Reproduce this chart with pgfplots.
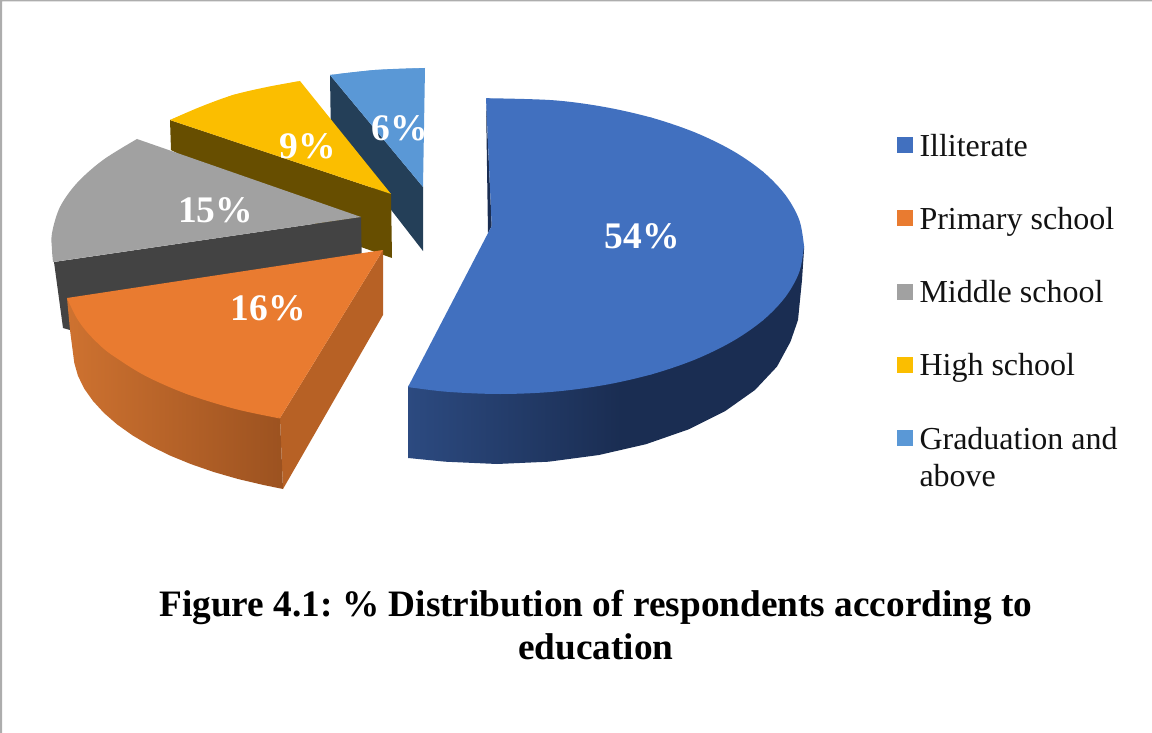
\documentclass[border=0pt]{standalone}
\usepackage{pgfplots}
\pgfplotsset{compat=1.18}
\usepackage{fontspec}
\setmainfont{Liberation Serif}
\frenchspacing
\definecolor{bT}{HTML}{4170BF}
\definecolor{bW1}{HTML}{2C4A80}
\definecolor{bW2}{HTML}{1A2D52}
\definecolor{oT}{HTML}{E97B30}
\definecolor{oS}{HTML}{B76125}
\definecolor{oW1}{HTML}{CE7230}
\definecolor{oW2}{HTML}{9C5220}
\definecolor{gT}{HTML}{A1A1A1}
\definecolor{gS}{HTML}{434343}
\definecolor{yT}{HTML}{FBBE00}
\definecolor{yS}{HTML}{674E00}
\definecolor{lT}{HTML}{5A98D6}
\definecolor{lS}{HTML}{243F58}
\definecolor{frameC}{HTML}{ADADAD}
\pgfdeclarehorizontalshading{bluewall}{100bp}{color(0bp)=(bW1); color(25bp)=(bW1); color(52bp)=(bW2); color(100bp)=(bW2)}
\pgfplotsset{poly/.style={forget plot, no markers, draw=none, fill=#1},
  parc/.style={forget plot, no markers, draw=none, fill=#1, smooth, tension=0.55}}
\tikzset{lab/.style={font=\fontsize{37.5}{37.5}\selectfont\bfseries, text=white, inner sep=0pt}}
\begin{document}
\begin{tikzpicture}
\begin{axis}[
  width=1152pt, height=733pt, scale only axis,
  xmin=0, xmax=1152, ymin=0, ymax=733, y dir=reverse,
  hide axis, clip=false,
  legend style={at={(897/1152,1-132/733)}, anchor=north west, draw=none, fill=none,
    font=\fontsize{32}{37}\selectfont, row sep=45.5pt, text=black!93,
    cells={anchor=base west}, inner sep=0pt, outer sep=0pt},
  legend image code/.code={\path[draw=none,fill=none] (0pt,3pt) -- (20.5pt,3pt); \fill[#1,draw=none] (0pt,3pt) rectangle (16pt,19pt);},
]
% frame
\addplot[poly=frameC] coordinates {(0,0)(1152,0)(1152,1.3)(2,1.3)(2,733)(0,733)};

% Graduation and above (6%)
\addplot[poly=lS] coordinates {(330,75)(423,187)(423,251)(392,211)(331,140)};
\addplot[poly=lT] coordinates {(330,75)(375,70)(425,68)(423,187)};
\addplot[parc=lT] coordinates {(330,75)(352,72.3)(375,70)(400,68.7)(425,68)};

% High school (9%)
\addplot[poly=yS] coordinates {(170,120)(391,194)(392,258)(361,247)(171,150)};
\addplot[poly=yT] coordinates {(170,120)(233,95)(300,81)(391,194)};
\addplot[parc=yT] coordinates {(170,120)(200,107)(233,95)(267,87)(300,81)};

% Middle school (15%)
\addplot[poly=gS] coordinates {(54,262)(361,217)(362,270)(70,330)(63,328)};
\addplot[poly=gT] coordinates {(137,139)(361,217)(53,262)(60,207)};
\addplot[parc=gT] coordinates {(137,139)(103,160)(77,183)(60,207)(52,233)(52,250)(53,262)};

% Primary school (16%)
\addplot[poly=oS] coordinates {(383,250)(383,315)(283,489)(280,418)};
\addplot[forget plot, no markers, draw=none, shade, left color=oW1, right color=oW2] coordinates {(67,298)(70,330)(74.3,363)(78,375.9)(84.2,388.6)(93,401)(104,413)(117.2,424.5)(132.7,435.5)(150.2,445.8)(169.7,455.4)(190.9,464.1)(213.7,472)(238,479)(263.5,485)(283,489)(280,418)};
\addplot[poly=oT] coordinates {(67,298)(383,250)(280,418)(186.5,393.9)(110.6,354)};
\addplot[parc=oT] coordinates {(67,298)(70.2,305)(76.6,317.8)(85.5,330.3)(96.9,342.4)(110.6,354)(144.5,375.4)(186.5,393.9)(235,408.9)(280,418.5)};

% Illiterate (54%)
\addplot[poly=bW2] coordinates {(486,100)(491.7,226)(488,233)};
\addplot[forget plot, no markers, draw=none, shade, shading=bluewall] coordinates {(804,246)(804,250)(802,280)(798,320)(790.5,341.7)(777,366.6)(755,390)(725.3,411)(688.5,429.4)(646,444.2)(599,455)(548.7,461.7)(497,464)(445.3,461.7)(408,458)(408,386)};
\addplot[poly=bT] coordinates {(486,98.2)(652,117.8)(763.3,172)(804,246)(763.3,320)(652,374.2)(500,394)(408,387)(491.7,226)};
\addplot[parc=bT] coordinates {(486,98.2)(552.8,100.2)(604,106.9)(652,117.8)(695.4,132.6)(732.9,150.9)(763.3,172)(785.7,195.4)(799.4,220.3)(804,246)};
\addplot[parc=bT] coordinates {(804,246)(799.4,271.7)(785.7,296.6)(763.3,320)(732.9,341.1)(695.4,359.4)(652,374.2)(604,385.1)(552.8,391.8)(500,394)(447.2,391.8)(408,387)};

% data labels
\node[lab] at (axis cs:642,236) {54\%};
\node[lab] at (axis cs:268,308) {16\%};
\node[lab] at (axis cs:215.5,210) {15\%};
\node[lab] at (axis cs:308,146) {9\%};
\node[lab] at (axis cs:400,128) {6\%};

% legend
\addlegendimage{fill=bT}\addlegendentry{Illiterate}
\addlegendimage{fill=oT}\addlegendentry{Primary school}
\addlegendimage{fill=gT}\addlegendentry{Middle school}
\addlegendimage{fill=yT}\addlegendentry{High school}
\addlegendimage{fill=lT}\addlegendentry{\parbox[t]{210pt}{\fontsize{32}{37}\selectfont Graduation and\\above}}

% caption
\node[font=\fontsize{37.3}{43}\selectfont\bfseries, align=center, anchor=center] at (axis cs:596,625) {Figure 4.1: \% Distribution of respondents according to\\education};
\end{axis}
\end{tikzpicture}
\end{document}
